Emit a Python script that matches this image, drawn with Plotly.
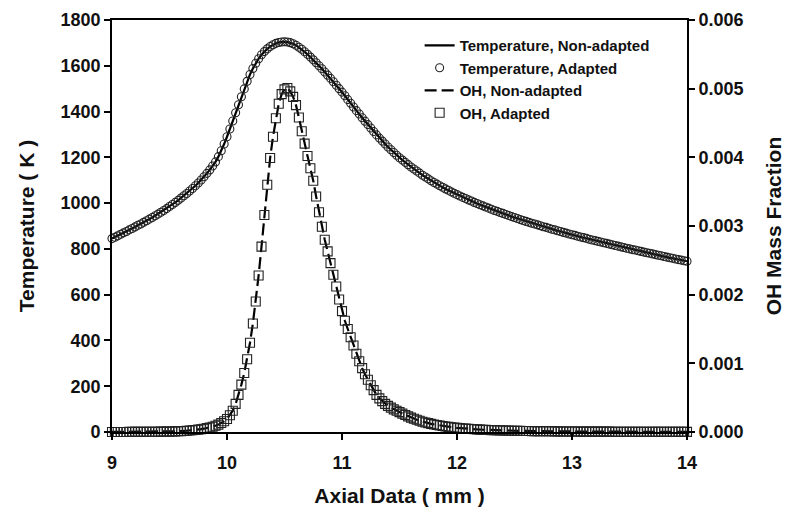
import plotly.graph_objects as go

# Axial positions (mm): uniform grid from 9 to 14 mm, 0.025 mm spacing
axial_mm = [round(9 + 0.025 * i, 3) for i in range(201)]

# Temperature (K)
temperature_K = [
    845, 851, 857, 864, 870, 876, 883, 889, 896, 903, 909, 916,
    923, 930, 937, 945, 952, 960, 968, 976, 985, 994, 1003, 1012,
    1022, 1032, 1042, 1053, 1064, 1076, 1088, 1101, 1115, 1130, 1145, 1162,
    1180, 1203, 1229, 1258, 1290, 1324, 1359, 1395, 1430, 1465, 1499, 1532,
    1562, 1588, 1611, 1631, 1648, 1662, 1674, 1684, 1692, 1698, 1702, 1704,
    1705, 1704, 1701, 1696, 1690, 1681, 1672, 1661, 1650, 1638, 1626, 1613,
    1600, 1587, 1573, 1559, 1545, 1530, 1515, 1500, 1485, 1469, 1452, 1436,
    1420, 1404, 1389, 1373, 1358, 1343, 1328, 1313, 1298, 1284, 1271, 1258,
    1245, 1233, 1221, 1209, 1198, 1188, 1178, 1168, 1158, 1149, 1140, 1131,
    1122, 1114, 1106, 1098, 1090, 1083, 1076, 1069, 1062, 1056, 1049, 1043,
    1037, 1031, 1025, 1020, 1014, 1009, 1003, 998, 993, 988, 983, 978,
    973, 968, 964, 959, 955, 950, 946, 941, 937, 933, 928, 924,
    920, 916, 912, 909, 905, 901, 897, 894, 890, 886, 883, 879,
    876, 872, 869, 865, 862, 859, 855, 852, 849, 846, 842, 839,
    836, 833, 830, 827, 824, 821, 818, 815, 812, 809, 806, 803,
    800, 797, 795, 792, 789, 786, 783, 781, 778, 775, 772, 770,
    767, 764, 761, 759, 756, 753, 751, 748, 746,
]

# OH mass fraction, in millionths (x 1e-6)
oh_mass_fraction_e6 = [
    1, 1, 1, 1, 1, 1, 2, 2, 2, 2, 2, 3,
    3, 3, 4, 4, 4, 5, 5, 6, 6, 8, 9, 10,
    12, 15, 18, 21, 25, 30, 35, 41, 48, 56, 66, 77,
    90, 108, 130, 157, 190, 243, 310, 410, 540, 690, 860, 1060,
    1300, 1580, 1900, 2280, 2700, 3160, 3600, 3990, 4300, 4570, 4780, 4920,
    4990, 5010, 4960, 4880, 4760, 4580, 4380, 4200, 4020, 3840, 3660, 3430,
    3200, 2990, 2800, 2630, 2460, 2290, 2120, 1930, 1760, 1620, 1500, 1380,
    1260, 1140, 1030, 930, 840, 760, 680, 610, 540, 490, 450, 410,
    380, 355, 330, 310, 290, 268, 248, 228, 210, 194, 178, 164,
    150, 139, 129, 119, 110, 102, 95, 87, 80, 75, 70, 65,
    60, 56, 52, 49, 46, 43, 40, 38, 35, 33, 32, 30,
    28, 27, 25, 24, 22, 21, 20, 19, 18, 17, 16, 15,
    15, 14, 13, 13, 12, 12, 11, 11, 10, 10, 9, 9,
    8, 8, 8, 7, 7, 7, 7, 6, 6, 6, 6, 6,
    5, 5, 5, 5, 5, 5, 4, 4, 4, 4, 4, 4,
    4, 4, 4, 3, 3, 3, 3, 3, 3, 3, 3, 3,
    3, 3, 3, 3, 2, 2, 2, 2, 2,
]
oh_mass_fraction = [v * 1e-6 for v in oh_mass_fraction_e6]

x_ticks = [9, 10, 11, 12, 13, 14]
temp_ticks = [0, 200, 400, 600, 800, 1000, 1200, 1400, 1600, 1800]
oh_ticks = [0.000, 0.001, 0.002, 0.003, 0.004, 0.005, 0.006]

FONT = "Liberation Sans, Arial, sans-serif"
INK = "#111111"
MARK = "#222222"

fig = go.Figure()
fig.add_trace(go.Scatter(
    x=axial_mm, y=temperature_K, mode="lines", name="Temperature, Non-adapted",
    line=dict(color="black", width=2.2), yaxis="y", cliponaxis=False))
fig.add_trace(go.Scatter(
    x=axial_mm, y=temperature_K, mode="markers", name="Temperature, Adapted",
    marker=dict(symbol="circle-open", size=8, color=MARK, line=dict(width=1.1)),
    yaxis="y", cliponaxis=False))
fig.add_trace(go.Scatter(
    x=axial_mm, y=oh_mass_fraction, mode="lines", name="OH, Non-adapted",
    line=dict(color="black", width=2.2, dash="12px,5px"), yaxis="y2", cliponaxis=False))
fig.add_trace(go.Scatter(
    x=axial_mm, y=oh_mass_fraction, mode="markers", name="OH, Adapted",
    marker=dict(symbol="square-open", size=9, color=MARK, line=dict(width=1.1)),
    yaxis="y2", cliponaxis=False))

axis_common = dict(
    showgrid=False, zeroline=False, showline=True, linecolor="black", linewidth=1.6,
    ticks="outside", ticklen=6, tickwidth=1.6, tickcolor="black", automargin=False,
    tickfont=dict(family=FONT, size=18, color=INK, weight="bold"),
)

fig.update_layout(
    width=787, height=513,
    margin=dict(l=112, r=100, t=20, b=81),
    paper_bgcolor="white", plot_bgcolor="white",
    font=dict(family=FONT, color=INK, weight="bold"),
    showlegend=True,
    legend=dict(
        x=0.535, y=0.978, xanchor="left", yanchor="top",
        bgcolor="rgba(0,0,0,0)", borderwidth=0,
        font=dict(family=FONT, size=15, color=INK, weight="bold"),
        tracegroupgap=0,
    ),
    xaxis=dict(
        range=[9, 14], tickvals=x_ticks, mirror=True, ticklabelstandoff=8,
        title=dict(text="Axial Data ( mm )", standoff=16,
                   font=dict(family=FONT, size=21, color=INK, weight="bold")),
        **axis_common,
    ),
    yaxis=dict(
        range=[0, 1800], tickvals=temp_ticks,
        title=dict(text="Temperature ( K )", standoff=20,
                   font=dict(family=FONT, size=21, color=INK, weight="bold")),
        **axis_common,
    ),
    yaxis2=dict(
        range=[0, 0.006], tickvals=oh_ticks, tickformat=".3f",
        overlaying="y", side="right", anchor="x",
        title=dict(text="OH Mass Fraction", standoff=24,
                   font=dict(family=FONT, size=21, color=INK, weight="bold")),
        **axis_common,
    ),
)

fig.write_html("out.html")
